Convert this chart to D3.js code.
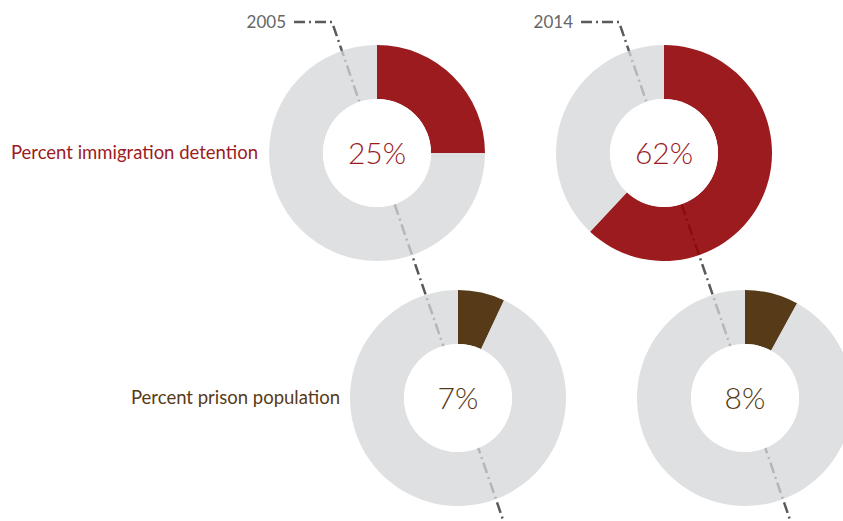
<!DOCTYPE html>
<html>
<head>
<meta charset="utf-8">
<script src="https://cdn.jsdelivr.net/npm/d3@7"></script>
<style>
  body { margin: 0; background: #fff; }
  svg { display: block; font-family: Lato, "Open Sans", sans-serif; }
</style>
</head>
<body>
<div id="chart"></div>
<script>
// chart data
const years = ["2005", "2014"];
const metrics = ["Percent immigration detention", "Percent prison population"];
const immigrationPct = [25, 62];
const prisonPct = [7, 8];

const W = 843, H = 521;
const colors = { detention: "#9b1b1f", prison: "#573a18", rest: "#dfe0e2" };
const outerR = 108, innerR = 54;

const svg = d3.select("#chart").append("svg")
    .attr("width", W)
    .attr("height", H);

// columns = years, rows = metrics (bottom row shifted right along the guide line)
let x = d3.scalePoint().domain(years).range([377, 664]);
let y = d3.scalePoint().domain(metrics).range([153, 398]);
const rowShift = { [metrics[0]]: 0, [metrics[1]]: 81 };

let cells = [];
metrics.forEach(function(m, r) {
    let vals = r == 0 ? immigrationPct : prisonPct;
    years.forEach(function(yr, c) {
        cells.push({ year: yr, metric: m, value: vals[c], row: r });
    });
});

// dash-dot guide lines (drawn first, donuts sit on top with some transparency)
const lineY = 22, slope = 45 / (y(metrics[0]) - lineY);
let guides = svg.append("g");
years.forEach(function(yr) {
    let cornerX = x(yr) - 45;
    let endX = cornerX + (H - lineY) * slope;
    guides.append("path")
        .attr("d", `M${cornerX - 38},${lineY}H${cornerX}L${endX},${H}`)
        .attr("fill", "none")
        .attr("stroke", "#5a5a5a")
        .attr("stroke-width", 2.5)
        .attr("stroke-dasharray", "11,4,2,4");
    guides.append("text")
        .attr("x", cornerX - 46)
        .attr("y", lineY + 6)
        .attr("text-anchor", "end")
        .attr("fill", "#666")
        .style("font-size", "17px")
        .text(yr);
});

let pie = d3.pie().sort(null).value(function(d) { return d; });
let arc = d3.arc().innerRadius(innerR).outerRadius(outerR);

let donuts = svg.selectAll("g.donut").data(cells).enter()
    .append("g")
    .attr("class", "donut")
    .attr("transform", d => `translate(${x(d.year) + rowShift[d.metric]},${y(d.metric)})`);

donuts.selectAll("path")
    .data(d => pie([d.value, 100 - d.value]).map(a => Object.assign(a, { row: d.row })))
    .enter()
    .append("path")
    .attr("d", arc)
    .attr("fill", function(a) {
        if (a.index == 1) return "rgb(212,213,216)";
        return a.row == 0 ? "rgb(144,2,6)" : colors.prison;
    })
    .attr("fill-opacity", a => a.index == 1 ? 0.75 : (a.row == 0 ? 0.9 : 1));

// white hole hides the guide line
donuts.append("circle")
    .attr("r", innerR)
    .attr("fill", "#fff");

donuts.append("text")
    .attr("text-anchor", "middle")
    .attr("dy", "0.36em")
    .attr("fill", d => d.row == 0 ? colors.detention : colors.prison)
    .style("font-size", "30px")
    .style("font-weight", 300)
    .text(d => d.value + "%");

// row labels
svg.selectAll("text.rowlabel").data(metrics).enter()
    .append("text")
    .attr("class", "rowlabel")
    .attr("x", (d, i) => i == 0 ? 258 : 340)
    .attr("y", d => y(d) + 6)
    .attr("text-anchor", "end")
    .attr("fill", (d, i) => i == 0 ? colors.detention : colors.prison)
    .style("font-size", "18.5px")
    .text(d => d);
</script>
</body>
</html>
